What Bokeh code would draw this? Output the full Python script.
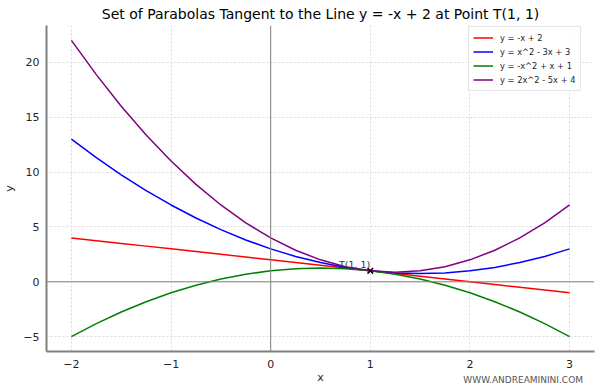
from bokeh.plotting import figure
from bokeh.models import Span, Legend, LegendItem, FixedTicker, Range1d, Div
from bokeh.layouts import column
from bokeh.core.properties import value
from bokeh.embed import file_html
from bokeh.resources import INLINE

# sampled x positions
xs = [-2.0, -1.75, -1.5, -1.25, -1.0, -0.75, -0.5, -0.25, 0.0, 0.25, 0.5,
      0.75, 1.0, 1.25, 1.5, 1.75, 2.0, 2.25, 2.5, 2.75, 3.0]
# y = -x + 2
line_y = [4, 3.75, 3.5, 3.25, 3, 2.75, 2.5, 2.25, 2, 1.75, 1.5, 1.25, 1,
          0.75, 0.5, 0.25, 0, -0.25, -0.5, -0.75, -1]
# y = x^2 - 3x + 3
blue_y = [13, 11.3125, 9.75, 8.3125, 7, 5.8125, 4.75, 3.8125, 3, 2.3125, 1.75,
          1.3125, 1, 0.8125, 0.75, 0.8125, 1, 1.3125, 1.75, 2.3125, 3]
# y = -x^2 + x + 1
green_y = [-5, -3.8125, -2.75, -1.8125, -1, -0.3125, 0.25, 0.6875, 1, 1.1875,
           1.25, 1.1875, 1, 0.6875, 0.25, -0.3125, -1, -1.8125, -2.75, -3.8125, -5]
# y = 2x^2 - 5x + 4
purple_y = [22, 18.875, 16, 13.375, 11, 8.875, 7, 5.375, 4, 2.875, 2, 1.375, 1,
            0.875, 1, 1.375, 2, 2.875, 4, 5.375, 7]
labels = ["y = -x + 2", "y = x^2 - 3x + 3", "y = -x^2 + x + 1", "y = 2x^2 - 5x + 4"]
point_x = [1]
point_y = [1]
point_label = "T(1, 1)"
watermark = "WWW.ANDREAMININI.COM"
x_ticks = [-2, -1, 0, 1, 2, 3]
y_ticks = [-5, 0, 5, 10, 15, 20]

FONT = "DejaVu Sans"

p = figure(width=596, height=386, output_backend="svg",
           toolbar_location=None, min_border_left=41, min_border_right=2,
           min_border_top=25, min_border_bottom=34,
           x_range=Range1d(-2.25, 3.25), y_range=Range1d(-6.35, 23.35),
           title="Set of Parabolas Tangent to the Line y = -x + 2 at Point T(1, 1)")
p.title.align = "center"
p.title.text_font = FONT
p.title.text_font_size = "14px"
p.title.text_font_style = "normal"
p.title.text_color = "black"
p.title.standoff = 7
p.title.offset = 0
p.outline_line_color = None
p.background_fill_color = "white"

for ax in (p.xaxis[0], p.yaxis[0]):
    ax.axis_line_color = "#808080"
    ax.axis_line_width = 2
    ax.major_tick_line_color = None
    ax.minor_tick_line_color = None
    ax.major_tick_out = 0
    ax.major_tick_in = 0
    ax.minor_tick_out = 0
    ax.minor_tick_in = 0
    ax.major_label_text_font = FONT
    ax.major_label_text_font_size = "11px"
    ax.major_label_text_color = "#262626"
    ax.axis_label_text_font = FONT
    ax.axis_label_text_font_size = "11px"
    ax.axis_label_text_font_style = "normal"
    ax.axis_label_text_color = "#262626"
p.xaxis.major_label_standoff = 8
p.yaxis.major_label_standoff = 7
p.xaxis.axis_label = "x"
p.yaxis.axis_label = "y"
p.xaxis.axis_label_standoff = 0
p.yaxis.axis_label_standoff = 4
p.xaxis.ticker = FixedTicker(ticks=x_ticks)
p.yaxis.ticker = FixedTicker(ticks=y_ticks)
p.xaxis.major_label_overrides = {t: str(t).replace("-", "\u2212") for t in x_ticks}
p.yaxis.major_label_overrides = {t: str(t).replace("-", "\u2212") for t in y_ticks}

p.grid.grid_line_color = "#d0d0d0"
p.grid.grid_line_dash = "2 2"
p.grid.grid_line_width = 0.8

p.add_layout(Span(location=0, dimension="width", line_color="#808080", line_width=1))
p.add_layout(Span(location=0, dimension="height", line_color="#808080", line_width=1))

colors = ["red", "blue", "green", "purple"]
series = [line_y, blue_y, green_y, purple_y]
renderers = []
for ys, c in zip(series, colors):
    renderers.append(p.line(xs, ys, line_color=c, line_width=1.5))

p.scatter(point_x, point_y, marker="x", size=8, line_color="black", line_width=1.5)
p.text(point_x, point_y, text=[point_label], text_align="right",
       text_baseline="bottom", text_font=value(FONT), text_font_size="9.5px",
       text_color="#333333", x_offset=0, y_offset=-1)

legend = Legend(items=[LegendItem(label=l, renderers=[r]) for l, r in zip(labels, renderers)],
                location=(422, 260))
legend.label_text_font = FONT
legend.label_text_font_size = "8.3px"
legend.label_text_color = "#262626"
legend.label_height = 13
legend.glyph_height = 13
legend.glyph_width = 20
legend.spacing = 1
legend.padding = 4
legend.label_standoff = 7
legend.border_line_color = "#cccccc"
legend.border_line_width = 1
legend.background_fill_alpha = 0.8
p.add_layout(legend)

wm = Div(text=watermark, width=596, height=12, margin=(-12, 0, 0, 0),
         styles={"text-align": "right", "font-family": FONT, "font-size": "9px",
                 "color": "#555555", "padding-right": "13px", "line-height": "12px",
                 "box-sizing": "border-box"})

layout = column(p, wm)
open("out.html", "w").write(file_html(layout, INLINE))
